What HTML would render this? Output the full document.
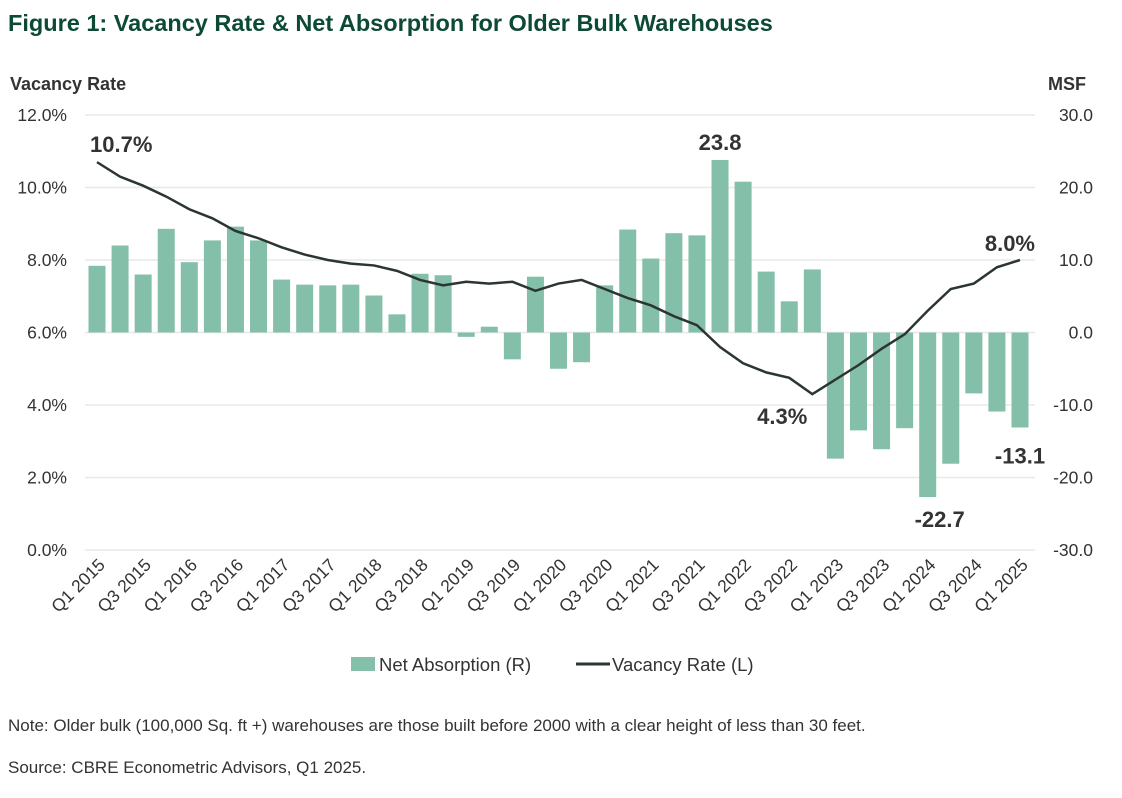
<!DOCTYPE html>
<html><head><meta charset="utf-8"><style>
body{margin:0;background:#fff;width:1122px;height:793px;overflow:hidden;font-family:"Liberation Sans",sans-serif;}
</style></head><body>
<svg id="chart" width="1122" height="793" xmlns="http://www.w3.org/2000/svg" font-family="Liberation Sans, sans-serif">
<text x="8" y="31" font-size="23.5" font-weight="bold" fill="#0d4a36">Figure 1: Vacancy Rate &amp; Net Absorption for Older Bulk Warehouses</text>
<text x="10" y="90" font-size="18" font-weight="bold" fill="#333">Vacancy Rate</text>
<text x="1048" y="90" font-size="18" font-weight="bold" fill="#333">MSF</text>
<g id="grid"></g><g id="bars"></g><g id="line"></g><g id="labels"></g>
<g>
<rect x="351" y="657" width="24" height="14" fill="#84bfaa"/>
<text x="379" y="671" font-size="18.5" fill="#333">Net Absorption (R)</text>
<line x1="576" y1="664" x2="610" y2="664" stroke="#2b3633" stroke-width="3"/>
<text x="612" y="671" font-size="18.5" fill="#333">Vacancy Rate (L)</text>
</g>
<text x="8" y="731" font-size="17" fill="#333">Note: Older bulk (100,000 Sq. ft +) warehouses are those built before 2000 with a clear height of less than 30 feet.</text>
<text x="8" y="773" font-size="17" fill="#333">Source: CBRE Econometric Advisors, Q1 2025.</text>
</svg>
<script>
const absorption=[9.2,12.0,8.0,14.3,9.7,12.7,14.6,12.7,7.3,6.6,6.5,6.6,5.1,2.5,8.1,7.9,-0.6,0.8,-3.7,7.7,-5.0,-4.1,6.5,14.2,10.2,13.7,13.4,23.8,20.8,8.4,4.3,8.7,-17.4,-13.5,-16.1,-13.2,-22.7,-18.1,-8.4,-10.9,-13.1];
const vacancy=[10.7,10.3,10.05,9.75,9.4,9.15,8.8,8.6,8.35,8.15,8.0,7.9,7.85,7.7,7.45,7.3,7.4,7.35,7.4,7.15,7.35,7.45,7.2,6.95,6.75,6.45,6.2,5.6,5.15,4.9,4.75,4.3,4.7,5.1,5.55,5.95,6.6,7.2,7.35,7.8,8.0];
const leftTicks=[0,2,4,6,8,10,12];
const rightTicks=[-30,-20,-10,0,10,20,30];
const quarters=[];for(let y=2015;y<=2025;y++)for(let q=1;q<=4;q++)quarters.push('Q'+q+' '+y);
const categories=quarters.slice(0,41);
const NS='http://www.w3.org/2000/svg';
const yL=v=>550-(v/12)*435;
const yR=v=>332.5-(v/30)*217.5;
const xC=i=>97+i*(923/(categories.length-1));
function mk(t,a,p){const e=document.createElementNS(NS,t);for(const k in a)e.setAttribute(k,a[k]);p.appendChild(e);return e;}
const grid=document.getElementById('grid');
leftTicks.forEach((v,i)=>{
 const g=mk('line',{x1:85,x2:1035,y1:yL(v),y2:yL(v),stroke:'#e8e8e8','stroke-width':1.5},grid);
 
 
 const t=mk('text',{x:67,y:yL(v)+6,'font-size':17.5,fill:'#333','text-anchor':'end'},grid);t.textContent=v.toFixed(1)+'%';
 
 
});
rightTicks.forEach(v=>{
 const t=mk('text',{x:1093,y:yR(v)+6,'font-size':17.5,fill:'#333','text-anchor':'end'},grid);t.textContent=v.toFixed(1);
 
 
});
const bars=document.getElementById('bars');
absorption.forEach((v,i)=>{
 const y0=yR(0),y1=yR(v);
 const r=mk('rect',{x:xC(i)-8.5,y:Math.min(y0,y1),width:17,height:Math.abs(y1-y0),fill:'#84bfaa'},bars);
 
 
});
const pl=mk('polyline',{points:vacancy.map((v,i)=>xC(i)+','+yL(v)).join(' '),fill:'none',stroke:'#2b3633','stroke-width':2.5},document.getElementById('line'));


const lab=document.getElementById('labels');
categories.forEach((c,i)=>{if(i%2)return;
 const x=xC(i)+9,y=566;
 const t=mk('text',{x:x,y:y,'font-size':17.5,fill:'#333','text-anchor':'end',transform:`rotate(-45 ${x} ${y})`},lab);t.textContent=c;
 
 
});
function ann(txt,x,y,anchor,name){const t=mk('text',{x:x,y:y,'font-size':22,'font-weight':'bold',fill:'#333','text-anchor':anchor},lab);t.textContent=txt;
 
 }
ann(vacancy[0].toFixed(1)+'%',xC(0)-7,152,'start','annotation-start-vacancy');
ann(absorption[27].toFixed(1),xC(27),yR(absorption[27])-10,'middle','annotation-max-absorption');
ann(vacancy[31].toFixed(1)+'%',xC(31)-5,yL(vacancy[31])+30,'end','annotation-min-vacancy');
ann(absorption[36].toFixed(1),xC(36)+12,yR(absorption[36])+30,'middle','annotation-min-absorption');
ann(vacancy[40].toFixed(1)+'%',xC(40)+15,yL(vacancy[40])-9,'end','annotation-end-vacancy');
ann(absorption[40].toFixed(1),xC(40),yR(absorption[40])+36,'middle','annotation-end-absorption');
</script>
</body></html>
